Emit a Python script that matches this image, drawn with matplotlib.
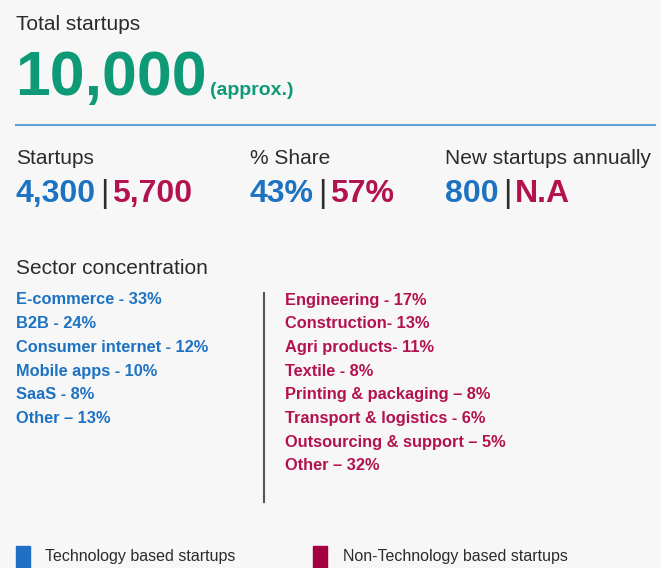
import matplotlib
matplotlib.use("Agg")
import matplotlib.pyplot as plt
from matplotlib.patches import Rectangle

# data
total = "10,000"
headers = ["Startups", "% Share", "New startups annually"]
tech_vals = ["4,300", "43%", "800"]
nontech_vals = ["5,700", "57%", "N.A"]
tech_sectors = ["E-commerce - 33%", "B2B - 24%", "Consumer internet - 12%",
                "Mobile apps - 10%", "SaaS - 8%", "Other \u2013 13%"]
nontech_sectors = ["Engineering - 17%", "Construction- 13%", "Agri products- 11%",
                   "Textile - 8%", "Printing & packaging \u2013 8%",
                   "Transport & logistics - 6%", "Outsourcing & support \u2013 5%",
                   "Other \u2013 32%"]
legend_labels = ["Technology based startups", "Non-Technology based startups"]

blue = "#1d72c2"
red = "#b3124e"
green = "#0f9a77"
dark = "#2b2b2b"
fam = ["Liberation Sans", "DejaVu Sans"]

fig = plt.figure(figsize=(6.61, 5.68), dpi=100)
fig.patch.set_facecolor("#f7f7f7")
ax = fig.add_axes([0, 0, 1, 1])
ax.set_xlim(0, 661)
ax.set_ylim(568, 0)
ax.axis("off")

ax.text(16, 24, "Total startups", fontsize=15, color=dark, family=fam, va="center")
ax.text(15, 95, total, fontsize=45, color=green, family=fam, weight="bold", va="baseline")
ax.text(210, 95, "(approx.)", fontsize=14, color=green, family=fam, weight="bold", va="baseline")

ax.plot([16, 655], [125, 125], color="#5fa3d9", lw=1.5)

xs = [16, 250, 445]
fig.canvas.draw()
inv = ax.transData.inverted()
for x, h, a, b in zip(xs, headers, tech_vals, nontech_vals):
    ax.text(x, 158, h, fontsize=15, color=dark, family=fam, va="center")
    t1 = ax.text(x, 202, a, fontsize=23, color=blue, family=fam, weight="bold", va="baseline")
    bb = t1.get_window_extent(fig.canvas.get_renderer()).transformed(inv)
    t2 = ax.text(bb.x1 + 4, 202, "|", fontsize=23, color=dark, family=fam, va="baseline")
    bb2 = t2.get_window_extent(fig.canvas.get_renderer()).transformed(inv)
    ax.text(bb2.x1 + 4, 202, b, fontsize=23, color=red, family=fam, weight="bold", va="baseline")

ax.text(16, 269, "Sector concentration", fontsize=15, color=dark, family=fam, va="center")

step = 23.7
for i, s in enumerate(tech_sectors):
    ax.text(16, 300 + i * step, s, fontsize=11.8, color=blue, family=fam, weight="bold", va="center")
for i, s in enumerate(nontech_sectors):
    ax.text(285, 300 + i * step, s, fontsize=11.8, color=red, family=fam, weight="bold", va="center")
ax.plot([264, 264], [293, 502], color="#555555", lw=1.5)

ax.add_patch(Rectangle((16, 546), 14, 22, color="#1f6fc4"))
ax.text(45, 557, legend_labels[0], fontsize=11.5, color=dark, family=fam, va="center")
ax.add_patch(Rectangle((313, 546), 14, 22, color="#a5003e"))
ax.text(343, 557, legend_labels[1], fontsize=11.5, color=dark, family=fam, va="center")

fig.savefig("out.png", dpi=100, facecolor=fig.get_facecolor())
